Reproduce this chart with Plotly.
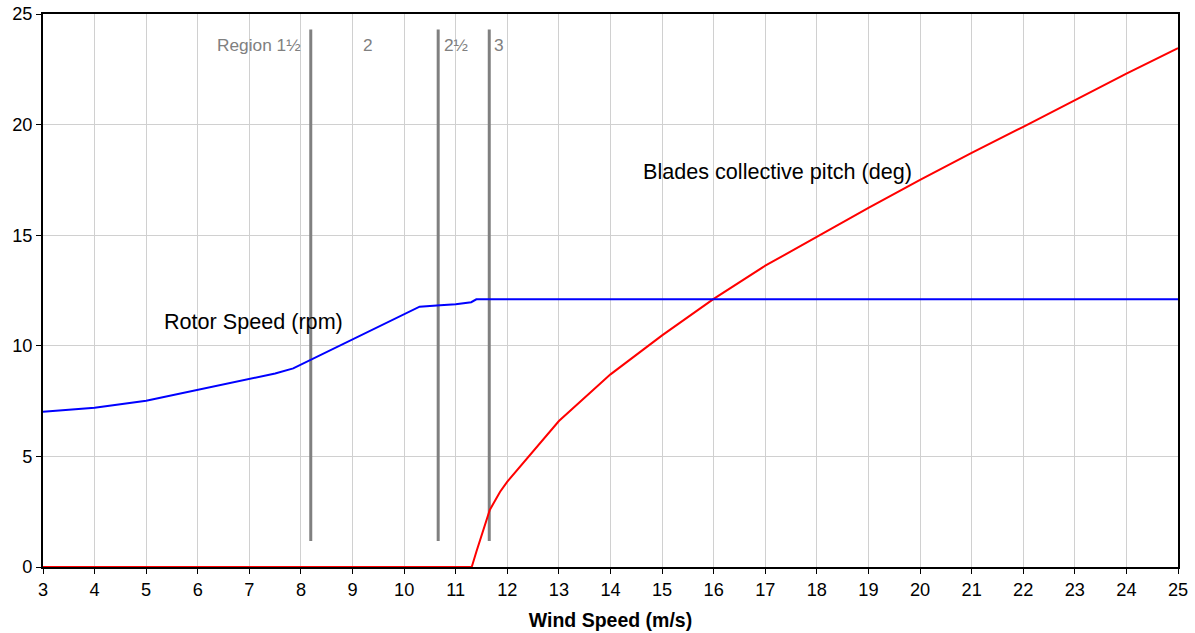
import plotly.graph_objects as go

# Data
wind_rotor = [3, 4, 5, 6, 7, 7.5, 7.85, 8.4, 9, 9.5, 10, 10.3, 10.7, 11, 11.3, 11.4, 12, 13, 14, 15, 16, 17, 18, 19, 20, 21, 22, 23, 24, 25]
rotor_speed = [7.02, 7.2, 7.52, 8.0, 8.5, 8.75, 8.98, 9.6, 10.28, 10.85, 11.42, 11.77, 11.83, 11.88, 11.97, 12.1, 12.1, 12.1, 12.1, 12.1, 12.1, 12.1, 12.1, 12.1, 12.1, 12.1, 12.1, 12.1, 12.1, 12.1]

wind_pitch = [3, 4, 5, 6, 7, 8, 9, 10, 11, 11.31, 11.4, 11.57, 11.66, 11.86, 12.0, 13, 14, 15, 16, 17, 18, 19, 20, 21, 22, 23, 24, 25]
blade_pitch = [0, 0, 0, 0, 0, 0, 0, 0, 0, 0, 0.69, 1.97, 2.58, 3.4, 3.86, 6.6, 8.71, 10.47, 12.12, 13.62, 14.93, 16.23, 17.5, 18.72, 19.9, 21.1, 22.3, 23.46]

region_bounds = [8.19, 10.66, 11.65]
region_ymin = [1.18, 1.18, 1.18]
region_ymax = [24.3, 24.3, 24.3]

region_labels = ["Region 1½", "2", "2½", "3"]
region_label_x = [8.03, 9.3, 10.74, 11.7]
region_label_anchor = ["right", "center", "left", "left"]
region_label_y = 23.6

x_ticks = list(range(3, 26))
y_ticks = [0, 5, 10, 15, 20, 25]

FONT = "Liberation Sans, Arial"

fig = go.Figure()

for xb, y0, y1 in zip(region_bounds, region_ymin, region_ymax):
    fig.add_trace(go.Scatter(x=[xb, xb], y=[y0, y1], mode="lines",
                             line=dict(color="#808080", width=3),
                             hoverinfo="skip", showlegend=False))

fig.add_trace(go.Scatter(x=wind_pitch, y=blade_pitch, mode="lines",
                         line=dict(color="#ff0000", width=2),
                         name="Blades collective pitch (deg)", showlegend=False, cliponaxis=False))
fig.add_trace(go.Scatter(x=wind_rotor, y=rotor_speed, mode="lines",
                         line=dict(color="#0000ff", width=2),
                         name="Rotor Speed (rpm)", showlegend=False))

for lbl, lx, anc in zip(region_labels, region_label_x, region_label_anchor):
    fig.add_annotation(x=lx, y=region_label_y, text=lbl, showarrow=False,
                       xanchor=anc, yanchor="middle",
                       font=dict(family=FONT, size=17.3, color="#808080"))

fig.add_annotation(x=5.31, y=11.08, text="Rotor Speed (rpm)", showarrow=False,
                   xanchor="left", yanchor="middle",
                   font=dict(family=FONT, size=21.6, color="black"))
fig.add_annotation(x=14.59, y=17.9, text="Blades collective pitch (deg)", showarrow=False,
                   xanchor="left", yanchor="middle",
                   font=dict(family=FONT, size=21.6, color="black"))

fig.update_layout(
    width=1195, height=633,
    margin=dict(l=43, r=17, t=14, b=66, autoexpand=False),
    paper_bgcolor="white", plot_bgcolor="white",
    font=dict(family=FONT, size=18, color="black"),
    showlegend=False,
)
fig.update_xaxes(range=[3, 25], tickvals=x_ticks, ticks="outside", ticklen=5,
                 tickcolor="black", showgrid=True, gridcolor="#d0d0d0", gridwidth=1,
                 showline=True, linecolor="black", linewidth=2, mirror=True,
                 zeroline=False, automargin=False,
                 title=dict(text="<b>Wind Speed (m/s)</b>", font=dict(size=19.5), standoff=15),
                 tickfont=dict(size=18.2))
fig.update_yaxes(range=[0, 25], tickvals=y_ticks, ticks="outside", ticklen=5,
                 tickcolor="black", showgrid=True, gridcolor="#d0d0d0", gridwidth=1,
                 showline=True, linecolor="black", linewidth=2, mirror=True,
                 zeroline=False, automargin=False, tickfont=dict(size=18.2))

fig.write_html("out.html", config={"displayModeBar": False},
               post_script="document.body.style.margin='0';")
